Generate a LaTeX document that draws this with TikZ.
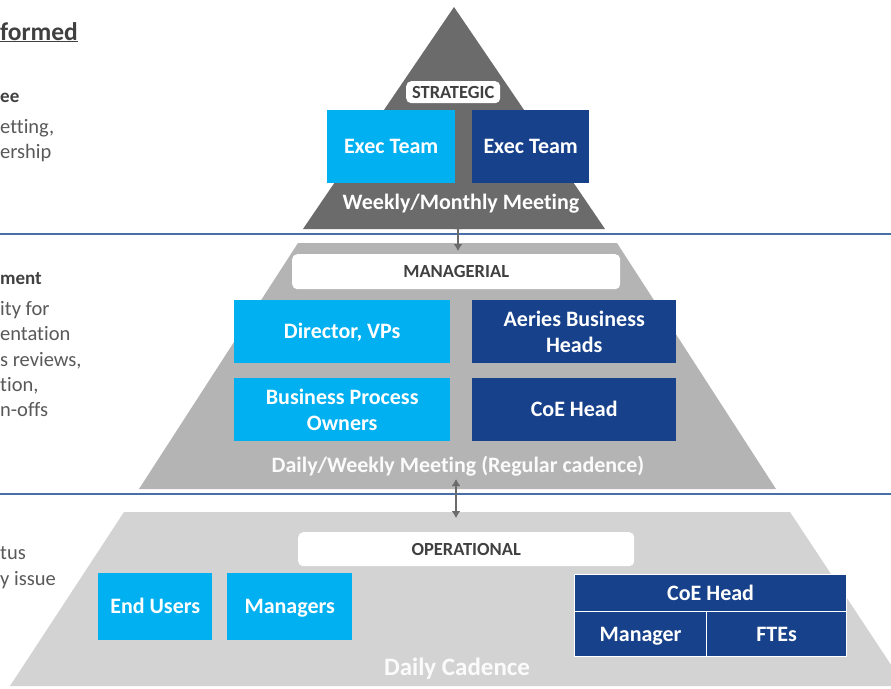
\documentclass[tikz,border=0pt]{standalone}
\usepackage{fontspec}
\setmainfont{Carlito}[Ligatures={NoCommon}]
\usetikzlibrary{arrows.meta}
\definecolor{lblue}{HTML}{00B0F0}
\definecolor{dblue}{HTML}{17418A}
\definecolor{gone}{HTML}{6B6B6B}
\definecolor{gtwo}{HTML}{B4B4B4}
\definecolor{gthree}{HTML}{D3D3D3}
\definecolor{rulec}{HTML}{4A6EA8}
\definecolor{txtc}{HTML}{595959}
\definecolor{headc}{HTML}{404040}
\begin{document}
\begin{tikzpicture}[x=1pt,y=-1pt,
  boxbase/.style={inner sep=0pt, anchor=north west, text=white, align=center,
    font=\bfseries\fontsize{22}{26}\selectfont},
  oneline/.style={text height=14pt, text depth=0pt},
  lbox/.style={boxbase, fill=lblue},
  dbox/.style={boxbase, fill=dblue},
  cbox/.style={boxbase, oneline, fill=dblue, draw=white, line width=1.2pt},
  tagbox/.style={inner sep=0pt, anchor=north west, fill=white, rounded corners=5pt,
    text=headc, font=\bfseries\fontsize{18.5}{20}\selectfont},
  meet/.style={text=white, oneline, font=\bfseries\fontsize{22}{25}\selectfont},
  sidebold/.style={anchor=base west, inner sep=0pt, text=headc, font=\bfseries\fontsize{19}{21}\selectfont},
  side/.style={anchor=base west, inner sep=0pt, text=txtc, font=\fontsize{20.5}{22}\selectfont},
  rulel/.style={draw=rulec, line width=1.8pt},
  link/.style={draw=gone, line width=1.8pt, {Latex[length=7pt,width=9pt]}-{Latex[length=7pt,width=9pt]}}
]
\useasboundingbox (0,0) rectangle (891,688);
\fill[white] (0,0) rectangle (891,688);

% pyramid levels
\fill[gone] (454,7) -- (605,229) -- (303,229) -- cycle;
\fill[gtwo] (298,243) -- (617,243) -- (776,489) -- (139,489) -- cycle;
\fill[gthree] (124,512) -- (790,512) -- (905,686) -- (10,686) -- cycle;

% rules
\draw[rulel] (0,234) -- (891,234);
\draw[rulel] (0,494) -- (891,494);

% strategic
\node[tagbox, minimum width=94pt, minimum height=22pt] (strat) at (406,81) {STRATEGIC};
\node[lbox, oneline, minimum width=128pt, minimum height=73pt] (exec1) at (327,110) {Exec Team};
\node[dbox, oneline, minimum width=117pt, minimum height=73pt] (exec2) at (472,110) {Exec Team};
\node[meet] (wm) at (461,202) {Weekly/Monthly Meeting};

% managerial
\node[tagbox, minimum width=328pt, minimum height=35pt] (mgr) at (292,254) {MANAGERIAL};
\node[lbox, oneline, minimum width=216pt, minimum height=63pt] (dir) at (234,300) {Director, VPs};
\node[dbox, minimum width=204pt, minimum height=63pt] (aer) at (472,300) {Aeries Business\\Heads};
\node[lbox, minimum width=216pt, minimum height=63pt] (bpo) at (234,378) {Business Process\\Owners};
\node[dbox, oneline, minimum width=204pt, minimum height=63pt] (coe1) at (472,378) {CoE Head};
\node[meet, text=white!95!gtwo] (dwm) at (458,465) {Daily/Weekly Meeting (Regular cadence)};

% operational
\node[tagbox, minimum width=336pt, minimum height=34pt] (ops) at (298,532) {OPERATIONAL};
\node[lbox, oneline, minimum width=114pt, minimum height=67pt] (eu) at (98,573) {End Users};
\node[lbox, oneline, minimum width=125pt, minimum height=67pt] (mgs) at (227,573) {Managers};
\node[cbox, minimum width=272pt, minimum height=37pt] (coe2) at (574,574) {CoE Head};
\node[cbox, minimum width=132pt, minimum height=45pt] (man) at (574,611) {Manager};
\node[cbox, minimum width=140pt, minimum height=45pt] (fte) at (706,611) {FTEs};
\node[meet, text=white!92!gthree, text height=16pt, font=\bfseries\fontsize{25}{28}\selectfont] (dc) at (457,667) {Daily Cadence};

% connectors
\coordinate (a1) at (458,222);
\coordinate (a2) at (458,251);
\coordinate (b1) at (456,479);
\coordinate (b2) at (456,518);
\draw[link] (a1) -- (a2);
\draw[link] (b1) -- (b2);

% left side text (cropped in the picture)
\node[anchor=base west, inner sep=0pt, text=headc, font=\bfseries\fontsize{25.5}{28}\selectfont] (t0) at (0,40) {\underline{formed}};
\node[sidebold] (t1) at (0,102) {ee};
\node[side] (t2) at (0,133) {etting,};
\node[side] (t3) at (0,158) {ership};
\node[sidebold] (t4) at (0,284) {ment};
\node[side] (t5) at (0,315) {ity for};
\node[side] (t6) at (0,340) {entation};
\node[side] (t7) at (0,366) {s reviews,};
\node[side] (t8) at (0,391) {tion,};
\node[side] (t9) at (0,416) {n-offs};
\node[side] (t10) at (0,559) {tus};
\node[side] (t11) at (0,585) {y issue};
\end{tikzpicture}
\end{document}
